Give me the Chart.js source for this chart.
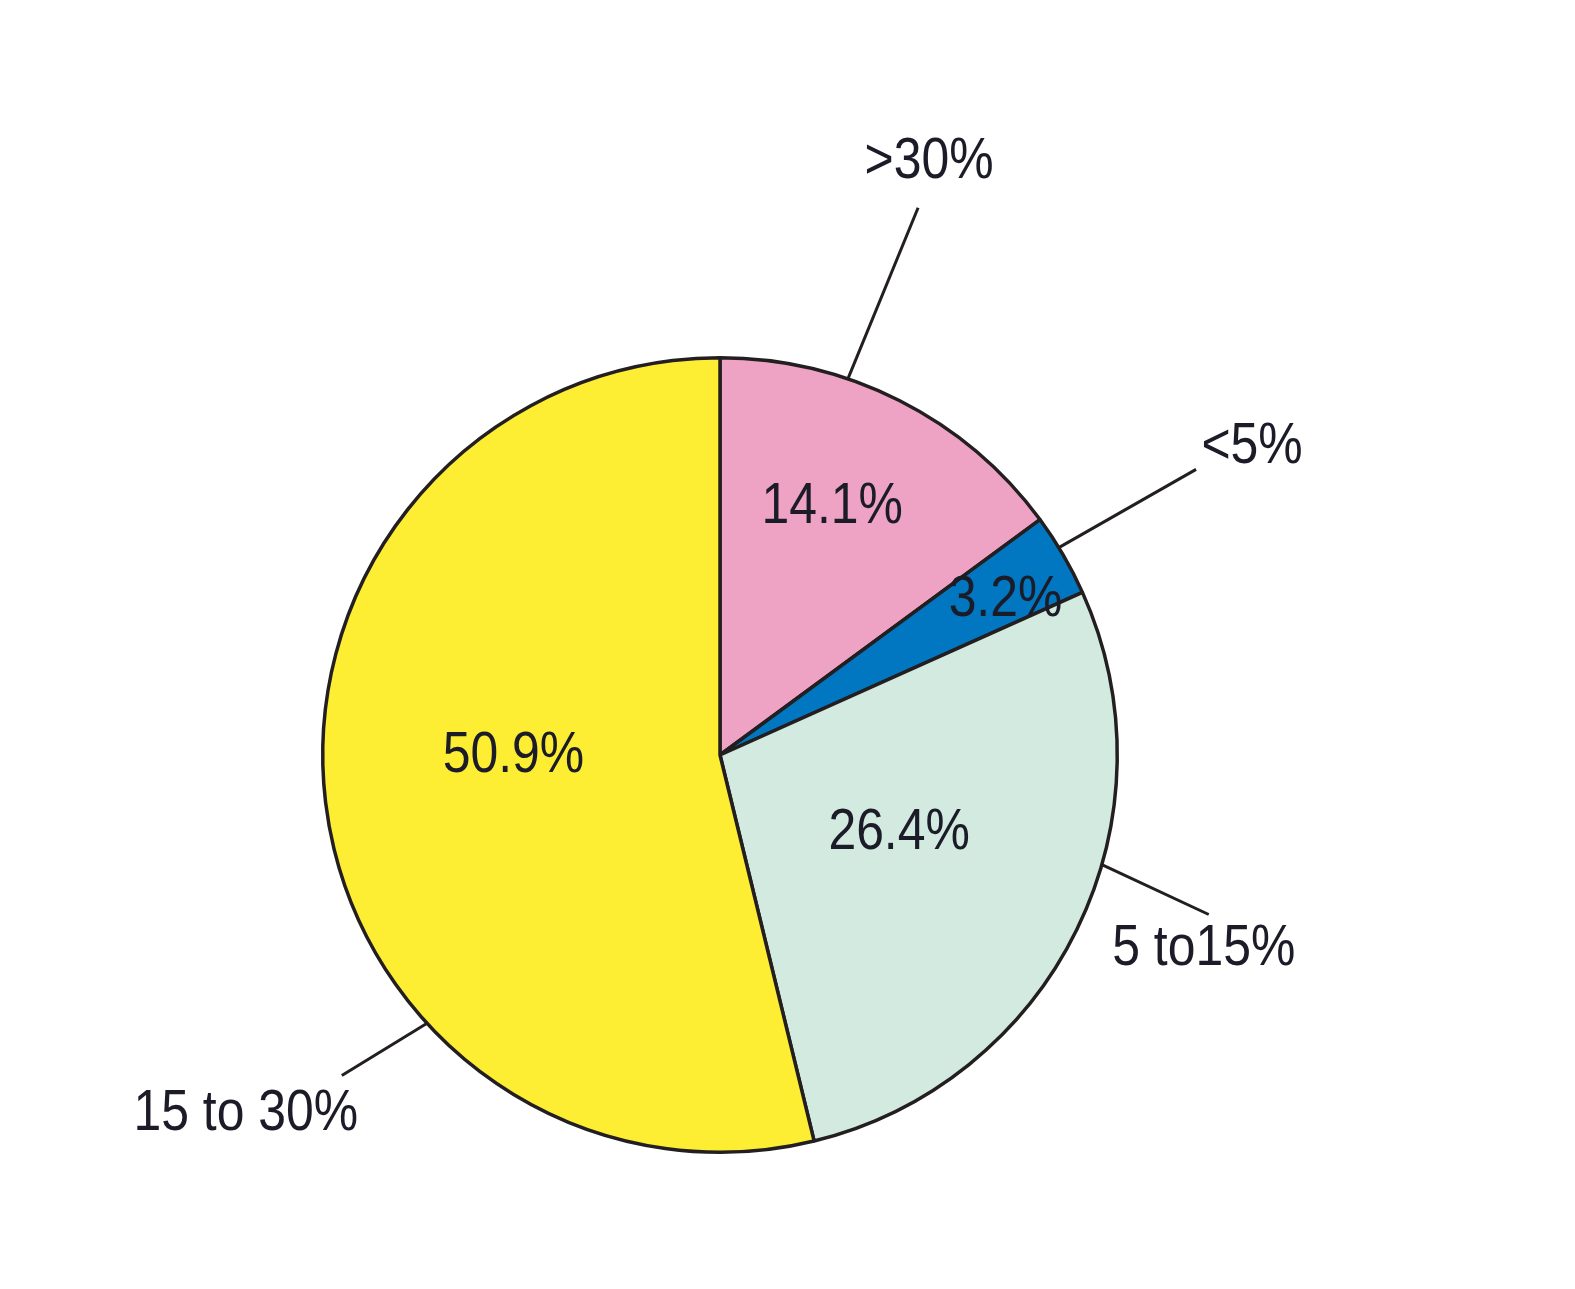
<!DOCTYPE html>
<html>
<head>
<meta charset="utf-8">
<script src="https://cdn.jsdelivr.net/npm/chart.js@4/dist/chart.umd.min.js"></script>
<style>
    html, body { margin: 0; padding: 0; background: #ffffff; }
    #wrap { width: 1575px; height: 1289px; position: relative; }
</style>
</head>
<body>
<div id="wrap"><canvas id="myChart" width="1575" height="1289"></canvas></div>
<script>
// slices go clockwise from 12 o'clock
const categories = ['>30%', '<5%', '5 to15%', '15 to 30%']
const shares = [14.1, 3.2, 26.4, 50.9]
const sliceLabels = ['14.1%', '3.2%', '26.4%', '50.9%']
const sliceColors = ['#eea3c4', '#0077c0', '#d3eae0', '#feee33']

// where to put the texts, relative to each arc
// inFrac / inR: position of the value inside the slice (fraction of arc angle, fraction of radius)
// anchorFrac: where the leader starts on the rim, leaderDeg: direction (deg from top, clockwise)
const labelStyle = [
    { inFrac: 0.45, inR: 0.69, anchorFrac: 0.35, leaderDeg: 22.3, leaderLen: 185, tx: 11, ty: -46 },
    { inFrac: 0.62, inR: 0.82, anchorFrac: 0.40, leaderDeg: 60.3, leaderLen: 158, tx: 56, ty: -22 },
    { inFrac: 0.47, inR: 0.49, anchorFrac: 0.40, leaderDeg: 115, leaderLen: 118, tx: -5, ty: 34 },
    { inFrac: 0.537, inR: 0.52, anchorFrac: 0.316, leaderDeg: 238.5, leaderLen: 100, tx: -96, ty: 38 }
]

const textColor = '#1c1c28'
const fontSize = 58
const squeeze = 0.86

function drawText(ctx, text, x, y) {
    ctx.save()
    ctx.translate(x, y)
    ctx.scale(squeeze, 1)
    ctx.fillText(text, 0, 0)
    ctx.restore()
}

const pieLabels = {
    id: 'pieLabels',
    afterDraw: function(chart) {
        const ctx = chart.ctx
        const arcs = chart.getDatasetMeta(0).data
        ctx.save()
        ctx.fillStyle = textColor
        ctx.strokeStyle = '#231f20'
        ctx.lineWidth = 3
        ctx.font = fontSize + 'px "Liberation Sans", Arial, sans-serif'
        ctx.textAlign = 'center'
        ctx.textBaseline = 'middle'
        arcs.forEach(function(arc, i) {
            const s = labelStyle[i]
            const span = arc.endAngle - arc.startAngle
            const r = arc.outerRadius

            const a1 = arc.startAngle + span * s.inFrac
            drawText(ctx, sliceLabels[i], arc.x + Math.cos(a1) * r * s.inR, arc.y + Math.sin(a1) * r * s.inR + 2)

            const a2 = arc.startAngle + span * s.anchorFrac
            const x0 = arc.x + Math.cos(a2) * r
            const y0 = arc.y + Math.sin(a2) * r
            const d = (s.leaderDeg - 90) * Math.PI / 180
            const x1 = x0 + Math.cos(d) * s.leaderLen
            const y1 = y0 + Math.sin(d) * s.leaderLen
            ctx.beginPath()
            ctx.moveTo(x0, y0)
            ctx.lineTo(x1, y1)
            ctx.stroke()

            drawText(ctx, categories[i], x1 + s.tx, y1 + s.ty)
        })
        ctx.restore()
    }
}

const ctx = document.getElementById('myChart').getContext('2d')
window.myChartInstance = new Chart(ctx, {
    type: 'pie',
    data: {
        labels: categories,
        datasets: [{
            data: shares,
            backgroundColor: sliceColors,
            borderColor: '#231f20',
            borderWidth: 3.5
        }]
    },
    options: {
        responsive: false,
        animation: false,
        layout: {
            padding: { left: 321, right: 456, top: 356, bottom: 135 }
        },
        plugins: {
            legend: { display: false },
            tooltip: { enabled: false }
        }
    },
    plugins: [pieLabels]
})
</script>
</body>
</html>
